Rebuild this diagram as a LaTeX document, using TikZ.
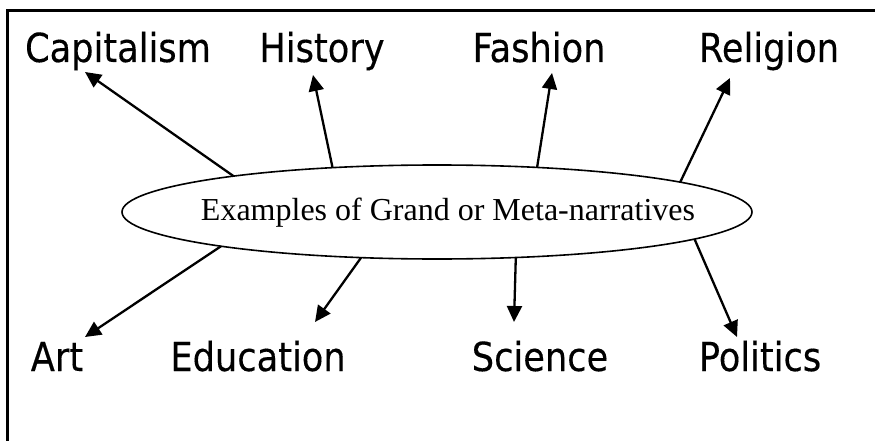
\documentclass[tikz,border=0pt]{standalone}
\usepackage{fontspec}
\setmainfont{Liberation Serif}
\newfontfamily\labelfont[FakeStretch=0.88,FakeBold=0.3]{DejaVu Sans}
\usepackage{tikz}
\usetikzlibrary{arrows.meta, shapes.geometric}

\begin{document}
\begin{tikzpicture}[x=1pt, y=-1pt,
  topic/.style={anchor=base, inner sep=0pt, font=\labelfont\fontsize{40}{48}\selectfont},
  arr/.style={line width=2.3pt, -{Triangle[length=16pt, width=15pt]}}]
\useasboundingbox (0,0) rectangle (875,441);

% Frame (only left and top edges show)
\draw[line width=3pt] (7.5,441) |- (875,10.5);

% Central ellipse
\node[ellipse, draw, line width=1.6pt, minimum width=630pt, minimum height=94pt,
  inner sep=0pt, outer sep=0pt] (ell) at (437,212) {};
\node[anchor=base, inner sep=0pt, font=\fontsize{32}{38}\selectfont] (txt) at (448,220)
  {Examples of Grand or Meta-narratives};

% Upper labels
\node[topic] (cap) at (118,62) {Capitalism};
\node[topic] (his) at (322,62) {History};
\node[topic] (fas) at (539,62) {Fashion};
\node[topic] (rel) at (769,62) {Religion};

% Lower labels
\node[topic] (art) at (57,371) {Art};
\node[topic] (edu) at (258,371) {Education};
\node[topic] (sci) at (540,371) {Science};
\node[topic] (pol) at (760,371) {Politics};

% Arrow tips
\coordinate (capTip) at (85,72);
\coordinate (hisTip) at (313,75);
\coordinate (fasTip) at (552,73);
\coordinate (relTip) at (730,78);
\coordinate (artTip) at (85,337);
\coordinate (eduTip) at (315,322);
\coordinate (sciTip) at (514,322);
\coordinate (polTip) at (737,337);

% Arrows out of the ellipse
\draw[arr] (ell.170.3) -- (capTip);
\draw[arr] (ell.157.6) -- (hisTip);
\draw[arr] (ell.24) -- (fasTip);
\draw[arr] (ell.7.9) -- (relTip);
\draw[arr] (ell.189.7) -- (artTip);
\draw[arr] (ell.-149) -- (eduTip);
\draw[arr] (ell.-30.6) -- (sciTip);
\draw[arr] (ell.-6.2) -- (polTip);
\end{tikzpicture}
\end{document}
